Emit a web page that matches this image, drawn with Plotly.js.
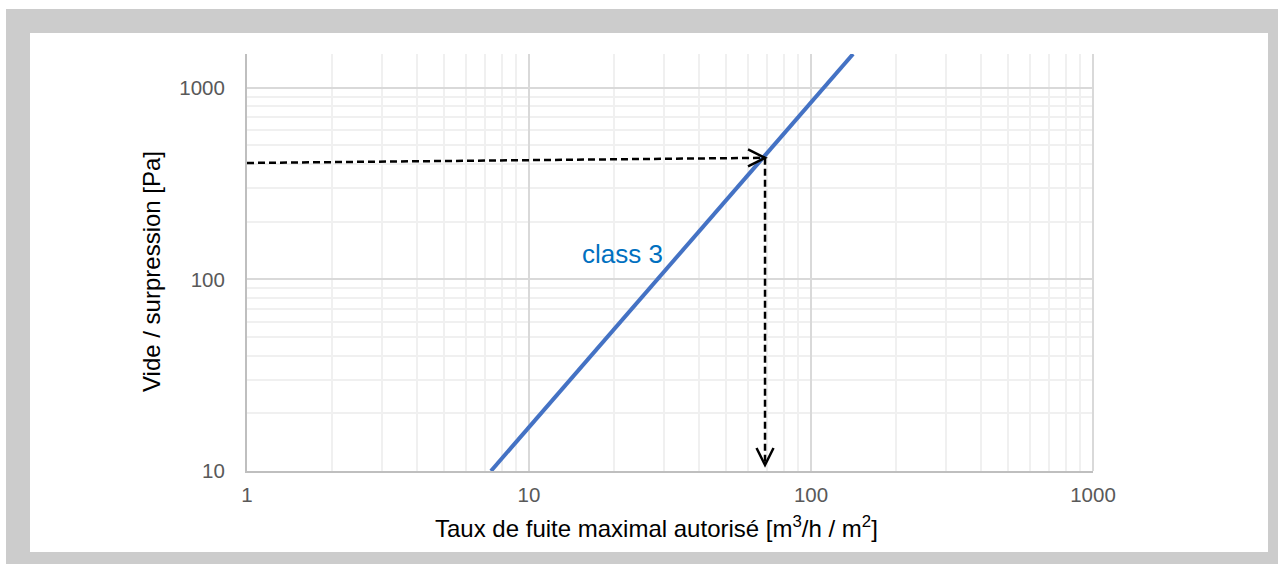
<!DOCTYPE html>
<html>
<head>
<meta charset="utf-8">
<script src="https://cdn.plot.ly/plotly-3.0.1.min.js"></script>
<style>
  html, body { margin:0; padding:0; background:#fff; width:1278px; height:564px; overflow:hidden; }
  #frame { position:absolute; left:6px; top:9px; width:1272px; height:555px; background:#cccccc; }
  #inner { position:absolute; left:30px; top:33px; width:1238px; height:519px; background:#fff; }
  #chart { position:absolute; left:0; top:0; width:1278px; height:564px; }
</style>
</head>
<body>
<div id="frame"></div>
<div id="inner"></div>
<div id="chart"></div>
<script>
// Class 3 line (leakage rate vs pressure)
const class3Rate = [7.33, 141];
const class3Pressure = [10, 1500];
const seriesName = "class 3";

// Reading example (dashed arrows)
const readStartRate = 1;
const readStartPressure = 405;
const readRate = 68.7;
const readPressure = 431;
const readBottomPressure = 10.75;

const xTickVals = [1, 10, 100, 1000];
const xTickText = ["1", "10", "100", "1000"];
const yTickVals = [10, 100, 1000];
const yTickText = ["10", "100", "1000"];

const xTitle = "Taux de fuite maximal autorisé [m<sup>3</sup>/h / m<sup>2</sup>]";
const yTitle = "Vide / surpression [Pa]";

const traces = [
  { x: class3Rate, y: class3Pressure, mode: "lines", type: "scatter",
    line: { color: "#4472c4", width: 4 }, hoverinfo: "skip", showlegend: false },
  { x: [readStartRate, readRate], y: [readStartPressure, readPressure], mode: "lines", type: "scatter",
    line: { color: "#000", width: 2.5, dash: "7px,4px" }, hoverinfo: "skip", showlegend: false },
  { x: [readRate, readRate], y: [readPressure, readBottomPressure], mode: "lines", type: "scatter",
    line: { color: "#000", width: 2.5, dash: "7px,4px" }, hoverinfo: "skip", showlegend: false }
];

const layout = {
  width: 1278, height: 564,
  paper_bgcolor: "rgba(0,0,0,0)", plot_bgcolor: "#fff",
  margin: { l: 247, r: 185, t: 54, b: 93, pad: 0 },
  font: { family: "Liberation Sans, Arial, sans-serif", color: "#595959" },
  xaxis: {
    type: "log", range: [0, 3], tickvals: xTickVals, ticktext: xTickText,
    showgrid: true, gridcolor: "#d9d9d9", gridwidth: 2,
    minor: { dtick: "D1", showgrid: true, gridcolor: "#f0f0f0", gridwidth: 2, ticks: "" },
    showline: true, linecolor: "#bfbfbf", linewidth: 2, mirror: false,
    ticks: "outside", ticklen: 4, tickcolor: "rgba(0,0,0,0)", tickfont: { size: 20.5, color: "#595959" },
    zeroline: false, fixedrange: true
  },
  yaxis: {
    type: "log", range: [1, Math.log10(1500)], tickvals: yTickVals, ticktext: yTickText,
    showgrid: true, gridcolor: "#d9d9d9", gridwidth: 2,
    minor: { dtick: "D1", showgrid: true, gridcolor: "#f0f0f0", gridwidth: 2, ticks: "" },
    showline: true, linecolor: "#bfbfbf", linewidth: 2,
    ticks: "outside", ticklen: 16, tickcolor: "rgba(0,0,0,0)", tickfont: { size: 20.5, color: "#595959" },
    zeroline: false, fixedrange: true
  },
  shapes: [
    { type: "line", xref: "paper", yref: "paper", x0: 1, x1: 1, y0: 0, y1: 1,
      line: { color: "#d9d9d9", width: 2 } },
    { type: "path", xref: "x", yref: "y", xsizemode: "pixel", ysizemode: "pixel",
      xanchor: readRate, yanchor: readPressure,
      path: "M -17,8.5 L 0,0 L -17,-8.5", line: { color: "#000", width: 2.5 } },
    { type: "path", xref: "x", yref: "y", xsizemode: "pixel", ysizemode: "pixel",
      xanchor: readRate, yanchor: readBottomPressure,
      path: "M -8.5,17 L 0,0 L 8.5,17", line: { color: "#000", width: 2.5 } }
  ],
  annotations: [
    { text: seriesName, x: Math.log10(21.4), y: Math.log10(136), xref: "x", yref: "y",
      showarrow: false, font: { size: 26, color: "#0070c0" } },
    { text: xTitle, xref: "paper", yref: "paper", x: (656 - 247) / 846, y: -(527 - 471) / 417,
      showarrow: false, font: { size: 24, color: "#000" }, xanchor: "center", yanchor: "middle" },
    { text: yTitle, xref: "paper", yref: "paper", x: -(247 - 151) / 846, y: (471 - 272) / 417,
      showarrow: false, textangle: -90, font: { size: 24, color: "#000" }, xanchor: "center", yanchor: "middle" }
  ],
  showlegend: false
};

Plotly.newPlot("chart", traces, layout, { staticPlot: true, displayModeBar: false });
</script>
</body>
</html>
